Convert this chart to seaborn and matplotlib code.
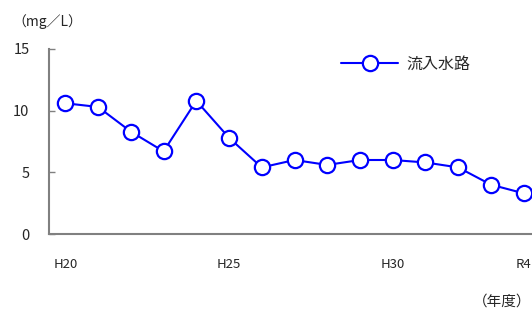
import numpy as np
import pandas as pd
import matplotlib
matplotlib.use("Agg")
import matplotlib.pyplot as plt
from matplotlib.ticker import FixedLocator
import seaborn as sns

# data
years = ["H20", "H21", "H22", "H23", "H24", "H25", "H26", "H27", "H28",
         "H29", "H30", "R1", "R2", "R3", "R4"]
shown_labels = ["H20", "", "", "", "", "H25", "", "", "", "", "H30", "", "", "", "R4"]
inflow = [10.6, 10.3, 8.3, 6.7, 10.8, 7.8, 5.4, 6.0, 5.6, 6.0, 6.0, 5.8, 5.4, 4.0, 3.3]

sns.set_style("white")
plt.rcParams['font.family'] = ['Noto Sans CJK JP', 'DejaVu Sans']

df = pd.DataFrame({"pos": np.arange(len(years)), "year": years, "流入水路": inflow})

fig = plt.figure(figsize=(5.32, 3.13), dpi=100)
ax = fig.add_axes([49 / 532, 79 / 313, 491 / 532, 185 / 313])

sns.lineplot(data=df, x="pos", y="流入水路", ax=ax, color="#0000FF",
             linewidth=1.5, marker="o", markersize=11,
             markerfacecolor="white", markeredgecolor="#0000FF",
             markeredgewidth=1.6, label="流入水路")

ax.set_xlim(-0.5, len(years) - 0.5)
ax.set_ylim(0, 15)
ax.set_yticks([0, 5, 10, 15])
ax.set_xticks(df["pos"])
ax.set_xticklabels(shown_labels)
ax.xaxis.set_minor_locator(FixedLocator(np.arange(len(years) + 1) - 0.5))
ax.tick_params(axis="x", which="major", length=0, pad=17, labelsize=9.5)
ax.tick_params(axis="x", which="minor", direction="in", length=4, width=1, color="#808080")
ax.tick_params(axis="y", direction="in", length=4, width=1, color="#808080",
               labelsize=10.5, pad=14, left=True)
ax.set_xlabel("")
ax.set_ylabel("")

for side in ["top", "right"]:
    ax.spines[side].set_visible(False)
for side in ["left", "bottom"]:
    ax.spines[side].set_color("#808080")
    ax.spines[side].set_linewidth(1.5)

ax.legend(loc="upper left", bbox_to_anchor=(0.565, 1.04), frameon=False,
          fontsize=11.5, handlelength=3.6, handletextpad=0.5)

fig.text(12 / 532, 1 - 22 / 313, "（mg／L）", fontsize=10, va="center", ha="left")
fig.text(531 / 532, 1 - 302 / 313, "（年度）", fontsize=10.5, va="center", ha="right")

fig.savefig("out.png", dpi=100)
